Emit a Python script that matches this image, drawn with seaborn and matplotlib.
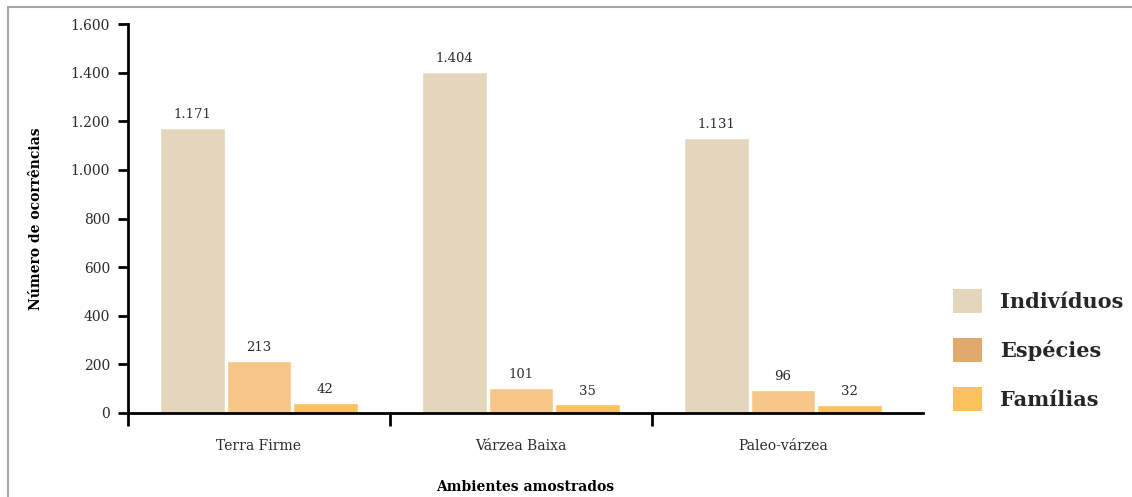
import matplotlib
matplotlib.use("Agg")
import matplotlib.pyplot as plt
import matplotlib.ticker as mticker
from matplotlib.patches import Patch, Rectangle
import pandas as pd
import seaborn as sns

# Data
ambientes = ["Terra Firme", "Várzea Baixa", "Paleo-várzea"]
series = ["Indivíduos", "Espécies", "Famílias"]
individuos = [1171, 1404, 1131]
especies = [213, 101, 96]
familias = [42, 35, 32]
y_ticks = [0, 200, 400, 600, 800, 1000, 1200, 1400, 1600]

bar_colors = ["#e3d6bc", "#f9c689", "#fbc15b"]
legend_colors = ["#e3d6bc", "#e0a96d", "#fbc15c"]

df = pd.DataFrame({
    "Ambiente": ambientes * 3,
    "Série": [series[0]] * 3 + [series[1]] * 3 + [series[2]] * 3,
    "Valor": individuos + especies + familias,
})

sns.set_theme(style="white")
plt.rcParams["font.family"] = ["DejaVu Serif"]

W, H = 1132, 497
fig = plt.figure(figsize=(W / 100, H / 100), dpi=100)
ax = fig.add_axes([128 / W, 1 - 413 / H, (923 - 128) / W, (413 - 24) / H])

sns.barplot(data=df, x="Ambiente", y="Valor", hue="Série", order=ambientes,
            hue_order=series, palette=bar_colors, width=0.76, gap=0.025,
            saturation=1, ax=ax, legend=False)

def fmt(v):
    return f"{int(v):,}".replace(",", ".")

for cont in ax.containers:
    vals = [b.get_height() for b in cont]
    ax.bar_label(cont, labels=[fmt(v) for v in vals], padding=5,
                 fontsize=9.5, color="#2b2b2b")

ax.set_ylim(0, 1600)
ax.set_xlim(-0.5, 2.535)
ax.set_yticks(y_ticks)
ax.yaxis.set_major_formatter(mticker.FuncFormatter(lambda v, p: fmt(v)))

# category labels without ticks; group boundaries as minor ticks
ax.set_xticks([-0.5, 0.5, 1.5], minor=True)
ax.tick_params(axis="x", which="major", bottom=True, length=0, pad=19,
               labelsize=10, labelcolor="#2b2b2b")
ax.tick_params(axis="x", which="minor", bottom=True, direction="out",
               length=9, width=2, color="black")
ax.tick_params(axis="y", direction="out", length=7, width=2, color="black",
               labelsize=10, labelcolor="#2b2b2b", pad=6, left=True)

for s in ["top", "right"]:
    ax.spines[s].set_visible(False)
for s in ["left", "bottom"]:
    ax.spines[s].set_color("black")
    ax.spines[s].set_linewidth(2)

ax.set_xlabel("Ambientes amostrados", fontsize=10, fontweight="bold",
              color="black", labelpad=19)
ax.set_ylabel("Número de ocorrências", fontsize=10, fontweight="bold",
              color="black", labelpad=20)

handles = [Patch(facecolor=c, edgecolor="none") for c in legend_colors]
fig.legend(handles, series, loc="center left",
           bbox_to_anchor=(953 / W, 1 - 350 / H), frameon=False,
           prop={"family": "DejaVu Serif", "weight": "bold", "size": 15},
           handlelength=1.4, handleheight=1.4, handletextpad=0.85,
           labelspacing=1.2, borderpad=0, borderaxespad=0)

# outer frame around the figure
fig.patches.append(Rectangle((8 / W, -0.1), 1.2, 1 - 7 / H + 0.1,
                             transform=fig.transFigure, fill=False,
                             edgecolor="#a6a6a6", linewidth=1.5))

fig.savefig("out.png", dpi=100)
